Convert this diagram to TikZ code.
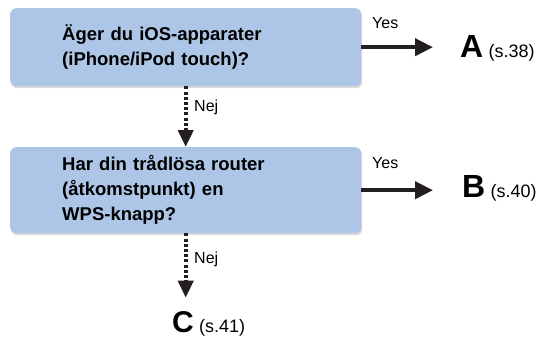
\documentclass[tikz,border=0pt]{standalone}
\usepackage{fontspec}
\setmainfont{Liberation Sans}
\usepackage{xcolor}
\usepackage{tikz}
\usetikzlibrary{arrows.meta, positioning, shadows}
\definecolor{qblue}{HTML}{ADC5E7}
\definecolor{arrowdark}{HTML}{231F20}

\begin{document}
\begin{tikzpicture}[x=1pt, y=-1pt,
  qbox/.style={fill=qblue, rounded corners=6pt, minimum width=351pt, text width=247pt,
    inner sep=0pt, align=left, font=\fontsize{18.5}{25}\selectfont\bfseries,
    drop shadow={shadow xshift=1pt, shadow yshift=-2pt, opacity=0.3}},
  yesarrow/.style={draw=arrowdark, line width=4pt, -{Triangle[length=18pt, width=17pt]}},
  noarrow/.style={draw=arrowdark, line width=4pt, dash pattern=on 3pt off 2.2pt,
    -{Triangle[length=17pt, width=15pt]}},
  lbl/.style={font=\fontsize{16}{18}\selectfont, inner sep=0pt},
  dest/.style={font=\fontsize{32}{34}\selectfont\bfseries, inner sep=0pt},
  pageref/.style={font=\fontsize{18}{20}\selectfont, inner sep=0pt},
]
  \useasboundingbox (0,0) rectangle (539,338);

  % Questions
  \node[qbox, minimum height=78pt, anchor=north west] (q1) at (10,8)
    {Äger du iOS-apparater\\(iPhone/iPod touch)?};
  \node[qbox, minimum height=86pt, anchor=north west] (q2) at (10,147)
    {Har din trådlösa router\\(åtkomstpunkt) en\\WPS-knapp?};

  % Destinations
  \node[dest, anchor=west] (a) at (460,46.5) {A};
  \node[pageref, right=5pt of a.base east, anchor=base west] (pa) {(s.38)};
  \node[dest, anchor=west] (b) at (462,186.5) {B};
  \node[pageref, right=5pt of b.base east, anchor=base west] (pb) {(s.40)};
  \node[dest, font=\fontsize{30}{32}\selectfont\bfseries] (c) at (183,322.5) {C};
  \node[pageref, right=5pt of c.base east, anchor=base west] (pc) {(s.41)};

  % Yes arrows
  \draw[yesarrow, shorten >=27pt] (q1.east) -- (q1.east -| a.west);
  \draw[yesarrow] (q2.east) -- ([xshift=-29pt]q2.east -| b.west);
  \node[lbl, anchor=base west] (yes1) at (372,28) {Yes};
  \node[lbl, anchor=base west] (yes2) at (372,168) {Yes};

  % No arrows
  \draw[noarrow] (q1.south) -- (q2.north);
  \draw[noarrow] (q2.south) -- ([yshift=14pt]q2.south |- c.north);
  \node[lbl, anchor=base west] (no1) at (194,111) {Nej};
  \node[lbl, anchor=base west] (no2) at (194,263) {Nej};

\end{tikzpicture}
\end{document}
